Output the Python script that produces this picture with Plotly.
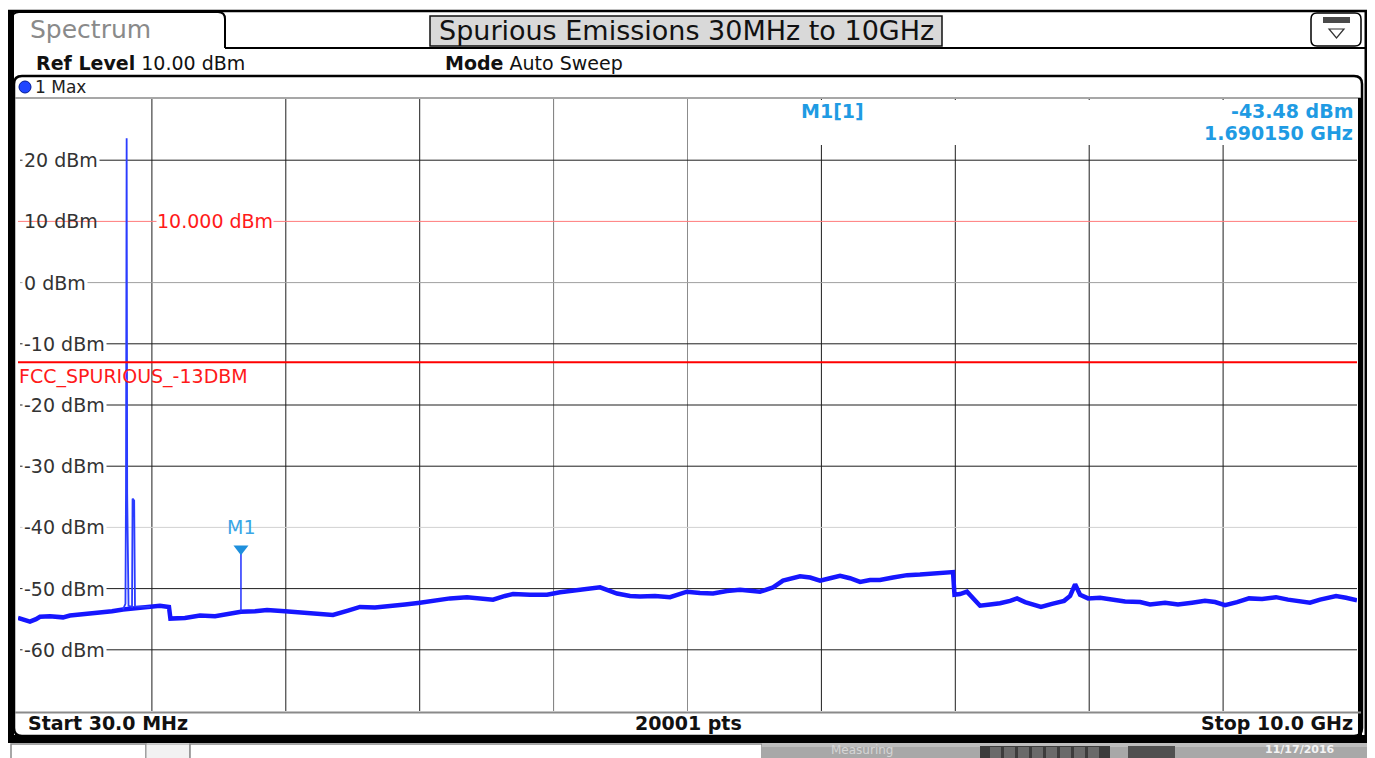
import plotly.graph_objects as go

# ---------------- data ----------------
freq_mhz = [30, 75, 119, 164, 194, 268, 365, 417, 469, 551, 641, 730, 812, 830,
            834, 839, 843, 848, 853, 879, 883, 895, 901, 1013, 1087, 1154, 1165,
            1273, 1385, 1497, 1586, 1690, 1795, 1884, 2018, 2130, 2264, 2375,
            2487, 2576, 2688, 2800, 2912, 3023, 3135, 3247, 3373, 3470, 3567,
            3656, 3716, 3842, 3969, 4066, 4237, 4364, 4490, 4587, 4661, 4773,
            4885, 5011, 5108, 5205, 5309, 5406, 5555, 5652, 5726, 5853, 5928,
            6002, 6076, 6151, 6225, 6300, 6374, 6448, 6545, 6650, 6746, 6895,
            6992, 7003, 7044, 7096, 7141, 7193, 7268, 7342, 7417, 7469, 7528,
            7588, 7647, 7729, 7819, 7864, 7901, 7938, 7998, 8087, 8161, 8273,
            8385, 8459, 8571, 8667, 8772, 8868, 8943, 9017, 9107, 9196, 9293,
            9397, 9486, 9568, 9650, 9725, 9844, 9918, 10000]
level_dbm = [-54.8, -55.2, -55.4, -55.0, -54.6, -54.5, -54.7, -54.4, -54.3, -54.1,
             -53.9, -53.7, -53.4, -52.5, -34.2, 23.6, -34.5, -47.0, -52.8, -53.0,
             -35.3, -35.6, -52.9, -53.0, -52.8, -53.0, -54.9, -54.8, -54.4, -54.5,
             -54.2, -53.8, -53.7, -53.5, -53.7, -53.9, -54.0, -54.3, -53.6, -53.0,
             -53.1, -52.9, -52.6, -52.3, -51.9, -51.6, -51.4, -51.6, -51.8, -51.2,
             -50.9, -51.0, -51.0, -50.6, -50.1, -49.8, -50.8, -51.2, -51.3, -51.2,
             -51.4, -50.5, -50.7, -50.8, -50.4, -50.2, -50.5, -49.8, -48.7, -48.0,
             -48.2, -48.7, -48.3, -47.9, -48.3, -48.9, -48.6, -48.6, -48.2, -47.8,
             -47.7, -47.5, -47.3, -51.0, -50.9, -50.5, -51.5, -52.8, -52.6, -52.4,
             -52.0, -51.6, -52.2, -52.7, -53.0, -52.5, -52.0, -51.2, -49.3, -51.0,
             -51.6, -51.5, -51.8, -52.1, -52.2, -52.6, -52.3, -52.6, -52.3, -52.0,
             -52.2, -52.7, -52.2, -51.6, -51.7, -51.4, -51.8, -52.0, -52.3, -51.8,
             -51.2, -51.5, -51.9]

y_ticks = [20, 10, 0, -10, -20, -30, -40, -50, -60]
y_tick_labels = ["20 dBm", "10 dBm", "0 dBm", "-10 dBm", "-20 dBm", "-30 dBm",
                 "-40 dBm", "-50 dBm", "-60 dBm"]
x_start = 30
x_stop = 10000
y_min = -70
y_max = 30
x_divisions = 10
ref_level = 10.0
display_line = 10.0
fcc_limit = -13.0
fcc_label = "FCC_SPURIOUS_-13DBM"
m1_freq = 1690.15
m1_level = -43.48
m1_trace = -53.8
sweep_points = 20001
title_text = "Spurious Emissions 30MHz to 10GHz"
date_text = "11/17/2016"

# the carrier spike region of the trace is drawn with a thin pen
spike_first, spike_last = 12, 23

# ---------------- geometry helpers (reference pixel -> paper) ----------------
PAGE_W, PAGE_H = 1375, 758
BODY = 8  # the html body margin offsets the figure
W, H = PAGE_W - BODY, PAGE_H - BODY
L, R, T, B = 18, 1357, 99, 711  # plot area in reference pixels


def px(x):
    return (x - L) / (R - L)


def py(y):
    return (B - y) / (B - T)


FONT = "DejaVu Sans"
shapes = []
annotations = []


def rect(x0, y0, x1, y1, fill=None, line=None, lw=1, layer="above"):
    shapes.append(dict(type="rect", xref="paper", yref="paper",
                       x0=px(x0), x1=px(x1), y0=py(y1), y1=py(y0),
                       fillcolor=fill if fill else "rgba(0,0,0,0)",
                       line=dict(color=line if line else "rgba(0,0,0,0)", width=lw if line else 0),
                       layer=layer))


def hline(x0, x1, y, color, lw=1, layer="above"):
    shapes.append(dict(type="line", xref="paper", yref="paper",
                       x0=px(x0), x1=px(x1), y0=py(y), y1=py(y),
                       line=dict(color=color, width=lw), layer=layer))


def vline(x, y0, y1, color, lw=1, layer="above"):
    shapes.append(dict(type="line", xref="paper", yref="paper",
                       x0=px(x), x1=px(x), y0=py(y0), y1=py(y1),
                       line=dict(color=color, width=lw), layer=layer))


def rpath(x0, y0, x1, y1, r, color, lw, fill=None, open_bottom=False):
    if open_bottom:
        d = (f"M {px(x0)},{py(y1)} L {px(x0)},{py(y0 + r)} "
             f"Q {px(x0)},{py(y0)} {px(x0 + r)},{py(y0)} "
             f"L {px(x1 - r)},{py(y0)} Q {px(x1)},{py(y0)} {px(x1)},{py(y0 + r)} "
             f"L {px(x1)},{py(y1)}")
    else:
        d = (f"M {px(x0)},{py(y0 + r)} Q {px(x0)},{py(y0)} {px(x0 + r)},{py(y0)} "
             f"L {px(x1 - r)},{py(y0)} Q {px(x1)},{py(y0)} {px(x1)},{py(y0 + r)} "
             f"L {px(x1)},{py(y1 - r)} Q {px(x1)},{py(y1)} {px(x1 - r)},{py(y1)} "
             f"L {px(x0 + r)},{py(y1)} Q {px(x0)},{py(y1)} {px(x0)},{py(y1 - r)} Z")
    shapes.append(dict(type="path", xref="paper", yref="paper", path=d,
                       line=dict(color=color, width=lw),
                       fillcolor=fill if fill else "rgba(0,0,0,0)", layer="above"))


def text(x, y, s, size=16, color="#111", anchor="left", vanchor="middle", bg=None):
    a = dict(xref="paper", yref="paper", x=px(x), y=py(y), text=s, showarrow=False,
             xanchor=anchor, yanchor=vanchor,
             font=dict(family=FONT, size=size, color=color))
    if bg:
        a["bgcolor"] = bg
    annotations.append(a)


# ---------------- grid ----------------
step = (x_stop - x_start) / x_divisions
light_v = {4: "#7a7a7a", 5: "#8c8c8c"}
for k in range(1, x_divisions):
    xv = x_start + k * step
    shapes.append(dict(type="line", xref="x", yref="paper", x0=xv, x1=xv, y0=0, y1=1,
                       line=dict(color=light_v.get(k, "#1e1e1e"), width=1), layer="between"))
light_h = {0: "#a0a0a0", -40: "#d2d2d2"}
for v in y_ticks:
    if v == display_line:
        continue
    shapes.append(dict(type="line", xref="paper", yref="y", x0=px(20), x1=1, y0=v, y1=v,
                       line=dict(color=light_h.get(v, "#1e1e1e"), width=1), layer="between"))

shapes.append(dict(type="line", xref="paper", yref="y", x0=0, x1=1, y0=display_line, y1=display_line,
                   line=dict(color="#ff7b7b", width=1), layer="between"))
shapes.append(dict(type="line", xref="paper", yref="y", x0=0, x1=1, y0=fcc_limit, y1=fcc_limit,
                   line=dict(color="#ff0000", width=2), layer="above"))

rect(691, 100, 1357, 145, fill="white")

# ---------------- frame / header chrome ----------------
rect(8, 10, 14, 742, fill="black")
hline(8, 1368, 11, "black", 2.5)
vline(1366, 10, 742, "black", 3)
rpath(12, 12, 225, 48, 7, "black", 2, open_bottom=True)
hline(225, 1368, 48, "black", 2)
rect(430, 16, 942, 46, fill="#d9d9d9", line="#111", lw=1.5)
rpath(1311, 13, 1361, 46, 6, "black", 1.5, fill="white")
rect(1323, 17, 1350, 23, fill="#4a4a4a")
shapes.append(dict(type="path", xref="paper", yref="paper",
                   path=f"M {px(1329)},{py(29)} L {px(1344)},{py(29)} L {px(1336.5)},{py(38)} Z",
                   line=dict(color="#333", width=1.2), fillcolor="white", layer="above"))

rpath(14, 76, 1362, 736, 8, "black", 2.5)
hline(15, 1361, 98, "#8a8a8a", 1.5)
vline(1360, 98, 736, "black", 4)
hline(15, 1361, 712.5, "#8a8a8a", 2)
shapes.append(dict(type="circle", xref="paper", yref="paper",
                   x0=px(19), x1=px(31), y0=py(93), y1=py(81),
                   fillcolor="#2046ff", line=dict(color="#001a99", width=1), layer="above"))

# status bar
rect(8, 735, 1368, 743, fill="black")
rect(11, 744, 146, 760, fill="white", line="#8a8a8a", lw=1.5)
rect(146, 744, 190, 760, fill="#f2f2f2", line="#9a9a9a", lw=1)
rect(190, 744, 762, 760, fill="white", line="#8a8a8a", lw=1.5)
rect(762, 743, 1368, 760, fill="#a8a8a8")
rect(762, 743, 1368, 747, fill="#bdbdbd")
rect(980, 746, 1110, 760, fill="#3c3c3c")
for xs in range(990, 1100, 14):
    rect(xs, 747, xs + 11, 760, fill="#6a6a6a")
rect(1128, 746, 1175, 760, fill="#505050")

# ---------------- texts ----------------
text(28, 30, "Spectrum", 25, "#8a8a8a")
text(686, 31, title_text, 27, "#111", anchor="center")
text(34, 63, f"<b>Ref Level</b> {ref_level:.2f} dBm", 19, "#111")
text(443, 63, "<b>Mode</b> Auto Sweep", 19, "#111")
text(33, 87, "1 Max", 17, "#222")

info_c = "#1f9be3"
text(832, 111, "<b>M1[1]</b>", 19, info_c, anchor="center")
text(1355, 111, f"<b>{m1_level:.2f} dBm</b>", 19, info_c, anchor="right")
text(1355, 133, f"<b>{m1_freq / 1000:.6f} GHz</b>", 19, info_c, anchor="right")

text(26, 723, f"<b>Start {x_start:.1f} MHz</b>", 19, "#111")
text(688, 723, f"<b>{sweep_points} pts</b>", 19, "#111", anchor="center")
text(1355, 723, f"<b>Stop {x_stop / 1000:.1f} GHz</b>", 19, "#111", anchor="right")

text(862, 750, "Measuring", 12, "#d6d6d6", anchor="center")
text(1300, 749, f"<b>{date_text}</b>", 11, "#f4f4f4", anchor="center")

for v, lab in zip(y_ticks, y_tick_labels):
    a = dict(xref="paper", yref="y", x=px(22), y=v, text=lab, showarrow=False,
             xanchor="left", yanchor="middle", borderpad=1,
             font=dict(family=FONT, size=19, color="#333"))
    if v != display_line:
        a["bgcolor"] = "white"
    annotations.append(a)

annotations.append(dict(xref="paper", yref="y", x=px(156), y=display_line,
                        text=f"{display_line:.3f} dBm", showarrow=False, xanchor="left",
                        yanchor="middle", bgcolor="white", borderpad=0,
                        font=dict(family=FONT, size=19, color="#ff1a1a")))
annotations.append(dict(xref="paper", yref="y", x=px(17), y=fcc_limit, yshift=-1,
                        text=fcc_label, showarrow=False, xanchor="left", yanchor="top",
                        font=dict(family=FONT, size=19, color="#ff1a1a")))
annotations.append(dict(xref="x", yref="y", x=m1_freq, y=m1_level, yshift=9,
                        text="M1", showarrow=False, xanchor="center", yanchor="bottom",
                        font=dict(family=FONT, size=19, color="#3aa6e6")))

# ---------------- traces ----------------
band_f = freq_mhz[:spike_first + 1] + freq_mhz[spike_last:]
band_v = level_dbm[:spike_first + 1] + level_dbm[spike_last:]
spike_f = freq_mhz[spike_first:spike_last + 1]
spike_v = level_dbm[spike_first:spike_last + 1]

fig = go.Figure()
fig.add_trace(go.Scatter(x=band_f, y=band_v, mode="lines",
                         line=dict(color="#1616ff", width=4.5), hoverinfo="skip",
                         showlegend=False))
fig.add_trace(go.Scatter(x=spike_f, y=spike_v, mode="lines",
                         line=dict(color="#2a3cff", width=1.8), hoverinfo="skip",
                         showlegend=False))
fig.add_trace(go.Scatter(x=[m1_freq, m1_freq], y=[m1_level, m1_trace], mode="lines",
                         line=dict(color="#2030ff", width=1.5), hoverinfo="skip",
                         showlegend=False))
fig.add_trace(go.Scatter(x=[m1_freq], y=[m1_level], mode="markers",
                         marker=dict(symbol="triangle-down", size=13, color="#1e8fdc"),
                         hoverinfo="skip", showlegend=False))

fig.update_layout(
    width=W, height=H,
    margin=dict(l=L - BODY, r=PAGE_W - R, t=T - BODY, b=PAGE_H - B, pad=0),
    paper_bgcolor="white", plot_bgcolor="white",
    xaxis=dict(range=[x_start, x_stop], showgrid=False, zeroline=False,
               showticklabels=False, showline=False, fixedrange=True),
    yaxis=dict(range=[y_min, y_max], showgrid=False, zeroline=False,
               showticklabels=False, showline=False, fixedrange=True),
    shapes=shapes, annotations=annotations, showlegend=False,
)

fig.write_html("out.html")
